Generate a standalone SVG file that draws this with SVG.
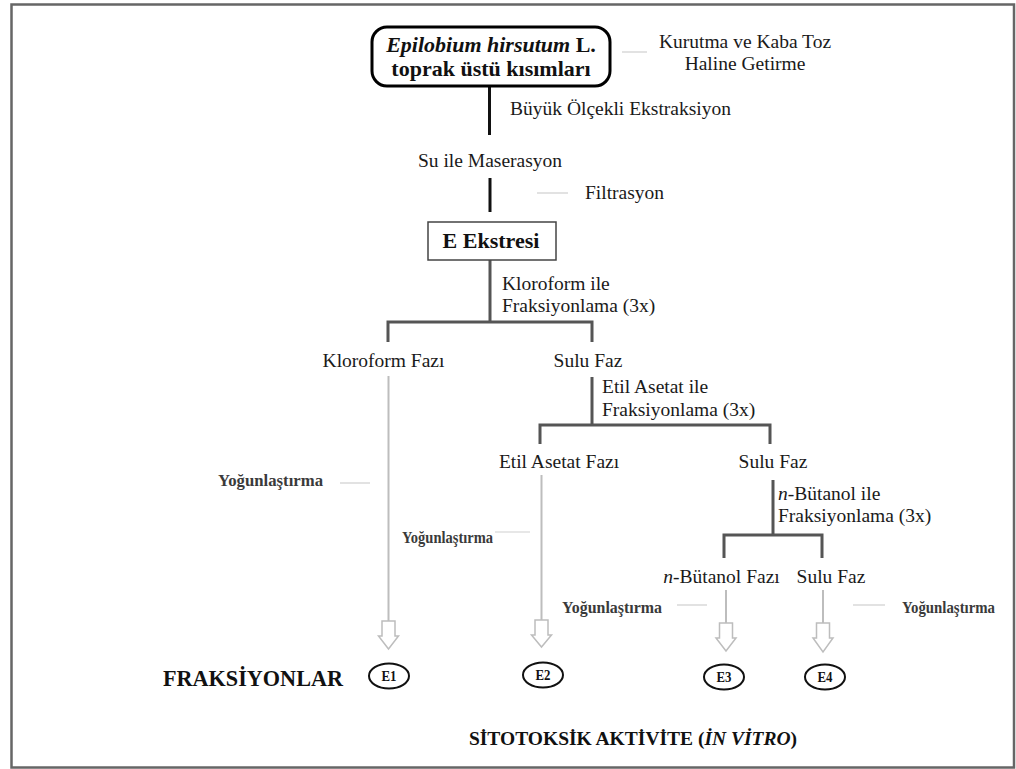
<svg xmlns="http://www.w3.org/2000/svg" width="1016" height="769" viewBox="0 0 1016 769">
<style>
.t{font-family:"Liberation Serif","Times New Roman",serif;font-size:19.5px;fill:#1a1a1a}
.b{font-family:"Liberation Serif","Times New Roman",serif;font-weight:bold;fill:#111}
.y{font-family:"Liberation Serif","Times New Roman",serif;font-weight:bold;font-size:17.5px;fill:#3a3a3a}
.e{font-family:"Liberation Serif","Times New Roman",serif;font-weight:bold;font-size:15px;fill:#111;text-anchor:middle}
.blk{stroke:#111;stroke-width:3;fill:none}
.dk{stroke:#555;stroke-width:3;fill:none}
.gl{stroke:#bdbdbd;stroke-width:2;fill:none}
.ld{stroke:#cfcfcf;stroke-width:1.2;fill:none}
.ar{stroke:#bdbdbd;stroke-width:1.5;fill:#fff}
.el{stroke:#111;stroke-width:2;fill:#fff}
</style>
<rect x="0" y="0" width="1016" height="769" fill="#fff"/>
<rect x="11.5" y="4.5" width="1002.5" height="763" fill="none" stroke="#666" stroke-width="2.5"/>

<g id="connectors">
  <line class="blk" x1="489.5" y1="86" x2="489.5" y2="135"/>
  <line class="blk" x1="490" y1="178" x2="490" y2="212"/>
  <line class="dk" x1="490" y1="260" x2="490" y2="322"/>
  <polyline class="dk" points="388,342 388,322 592,322 592,342"/>
  <line class="dk" x1="592" y1="377" x2="592" y2="425"/>
  <polyline class="dk" points="540,444 540,425 770,425 770,444"/>
  <line class="dk" x1="773" y1="480" x2="773" y2="535"/>
  <polyline class="dk" points="724,558 724,535 822,535 822,558"/>
  <line class="gl" x1="388.5" y1="376" x2="388.5" y2="621"/>
  <line class="gl" x1="541.5" y1="475" x2="541.5" y2="620"/>
  <line class="gl" x1="726" y1="590" x2="726" y2="623"/>
  <line class="gl" x1="823" y1="590" x2="823" y2="623"/>
  <path class="ar" d="M382,621 h13 v15 h3.5 l-10,13 l-10,-13 h3.5 z"/>
  <path class="ar" d="M535,620 h13 v15 h3.5 l-10,12 l-10,-12 h3.5 z"/>
  <path class="ar" d="M719.5,623 h13 v15 h3.5 l-10,13 l-10,-13 h3.5 z"/>
  <path class="ar" d="M816.5,623 h13 v15 h3.5 l-10,14 l-10,-14 h3.5 z"/>
  <line class="ld" x1="622" y1="52" x2="647" y2="52"/>
  <line class="ld" x1="537" y1="193" x2="568" y2="193"/>
  <line class="ld" x1="340" y1="483" x2="370" y2="483"/>
  <line class="ld" x1="495" y1="532" x2="530" y2="532"/>
  <line class="ld" x1="677" y1="605" x2="707" y2="605"/>
  <line class="ld" x1="853" y1="605" x2="885" y2="605"/>
</g>

<g id="node-plant">
  <rect x="372" y="27" width="238" height="59" rx="15" fill="#fff" stroke="#000" stroke-width="3"/>
  <text class="b" x="491" y="52" font-size="22" text-anchor="middle"><tspan font-style="italic">Epilobium hirsutum</tspan> L.</text>
  <text class="b" x="491" y="76" font-size="22" text-anchor="middle">toprak üstü kısımları</text>
</g>
<g id="label-kurutma">
  <text class="t" x="745" y="48" text-anchor="middle">Kurutma ve Kaba Toz</text>
  <text class="t" x="745" y="70" text-anchor="middle">Haline Getirme</text>
</g>
<g id="label-buyuk"><text class="t" x="510" y="115">Büyük Ölçekli Ekstraksiyon</text></g>
<g id="node-maserasyon"><text class="t" x="490" y="167" text-anchor="middle">Su ile Maserasyon</text></g>
<g id="label-filtrasyon"><text class="t" x="585" y="199">Filtrasyon</text></g>
<g id="node-ekstre">
  <rect x="428" y="222" width="128" height="38" fill="#fff" stroke="#444" stroke-width="1.5"/>
  <text class="b" x="491" y="248" font-size="22" text-anchor="middle">E Ekstresi</text>
</g>
<g id="label-kloroform">
  <text class="t" x="502" y="290">Kloroform ile</text>
  <text class="t" x="502" y="312">Fraksiyonlama (3x)</text>
</g>
<g id="node-kloroform-fazi"><text class="t" x="383.5" y="367" text-anchor="middle">Kloroform Fazı</text></g>
<g id="node-sulu-faz-1"><text class="t" x="588" y="367" text-anchor="middle">Sulu Faz</text></g>
<g id="label-etil">
  <text class="t" x="602" y="393">Etil Asetat ile</text>
  <text class="t" x="602" y="416">Fraksiyonlama (3x)</text>
</g>
<g id="node-etil-asetat-fazi"><text class="t" x="559" y="468" text-anchor="middle">Etil Asetat Fazı</text></g>
<g id="node-sulu-faz-2"><text class="t" x="773" y="468" text-anchor="middle">Sulu Faz</text></g>
<g id="label-butanol">
  <text class="t" x="778" y="500"><tspan font-style="italic">n</tspan>-Bütanol ile</text>
  <text class="t" x="778" y="522">Fraksiyonlama (3x)</text>
</g>
<g id="node-butanol-fazi"><text class="t" x="721.5" y="583" text-anchor="middle"><tspan font-style="italic">n</tspan>-Bütanol Fazı</text></g>
<g id="node-sulu-faz-3"><text class="t" x="831" y="583" text-anchor="middle">Sulu Faz</text></g>

<g id="labels-yogunlastirma">
  <text class="y" x="218" y="486" textLength="105" lengthAdjust="spacingAndGlyphs">Yoğunlaştırma</text>
  <text class="y" x="402" y="543" textLength="91" lengthAdjust="spacingAndGlyphs">Yoğunlaştırma</text>
  <text class="y" x="562" y="613" textLength="100" lengthAdjust="spacingAndGlyphs">Yoğunlaştırma</text>
  <text class="y" x="902" y="613" textLength="93" lengthAdjust="spacingAndGlyphs">Yoğunlaştırma</text>
</g>

<g id="label-fraksiyonlar"><text class="b" x="163" y="686" font-size="23" textLength="180" lengthAdjust="spacingAndGlyphs">FRAKSİYONLAR</text></g>
<g id="node-E1"><ellipse class="el" cx="389" cy="676" rx="20" ry="12.5"/><text class="e" x="389" y="681" textLength="15" lengthAdjust="spacingAndGlyphs">E1</text></g>
<g id="node-E2"><ellipse class="el" cx="543" cy="675" rx="20" ry="12.5"/><text class="e" x="543" y="680" textLength="15" lengthAdjust="spacingAndGlyphs">E2</text></g>
<g id="node-E3"><ellipse class="el" cx="724" cy="677" rx="20" ry="12.5"/><text class="e" x="724" y="682" textLength="15" lengthAdjust="spacingAndGlyphs">E3</text></g>
<g id="node-E4"><ellipse class="el" cx="825" cy="677" rx="20" ry="12.5"/><text class="e" x="825" y="682" textLength="15" lengthAdjust="spacingAndGlyphs">E4</text></g>

<g id="label-sitotoksik"><text class="b" x="633" y="745" font-size="19.5" text-anchor="middle">SİTOTOKSİK AKTİVİTE (<tspan font-style="italic">İN VİTRO</tspan>)</text></g>
</svg>
